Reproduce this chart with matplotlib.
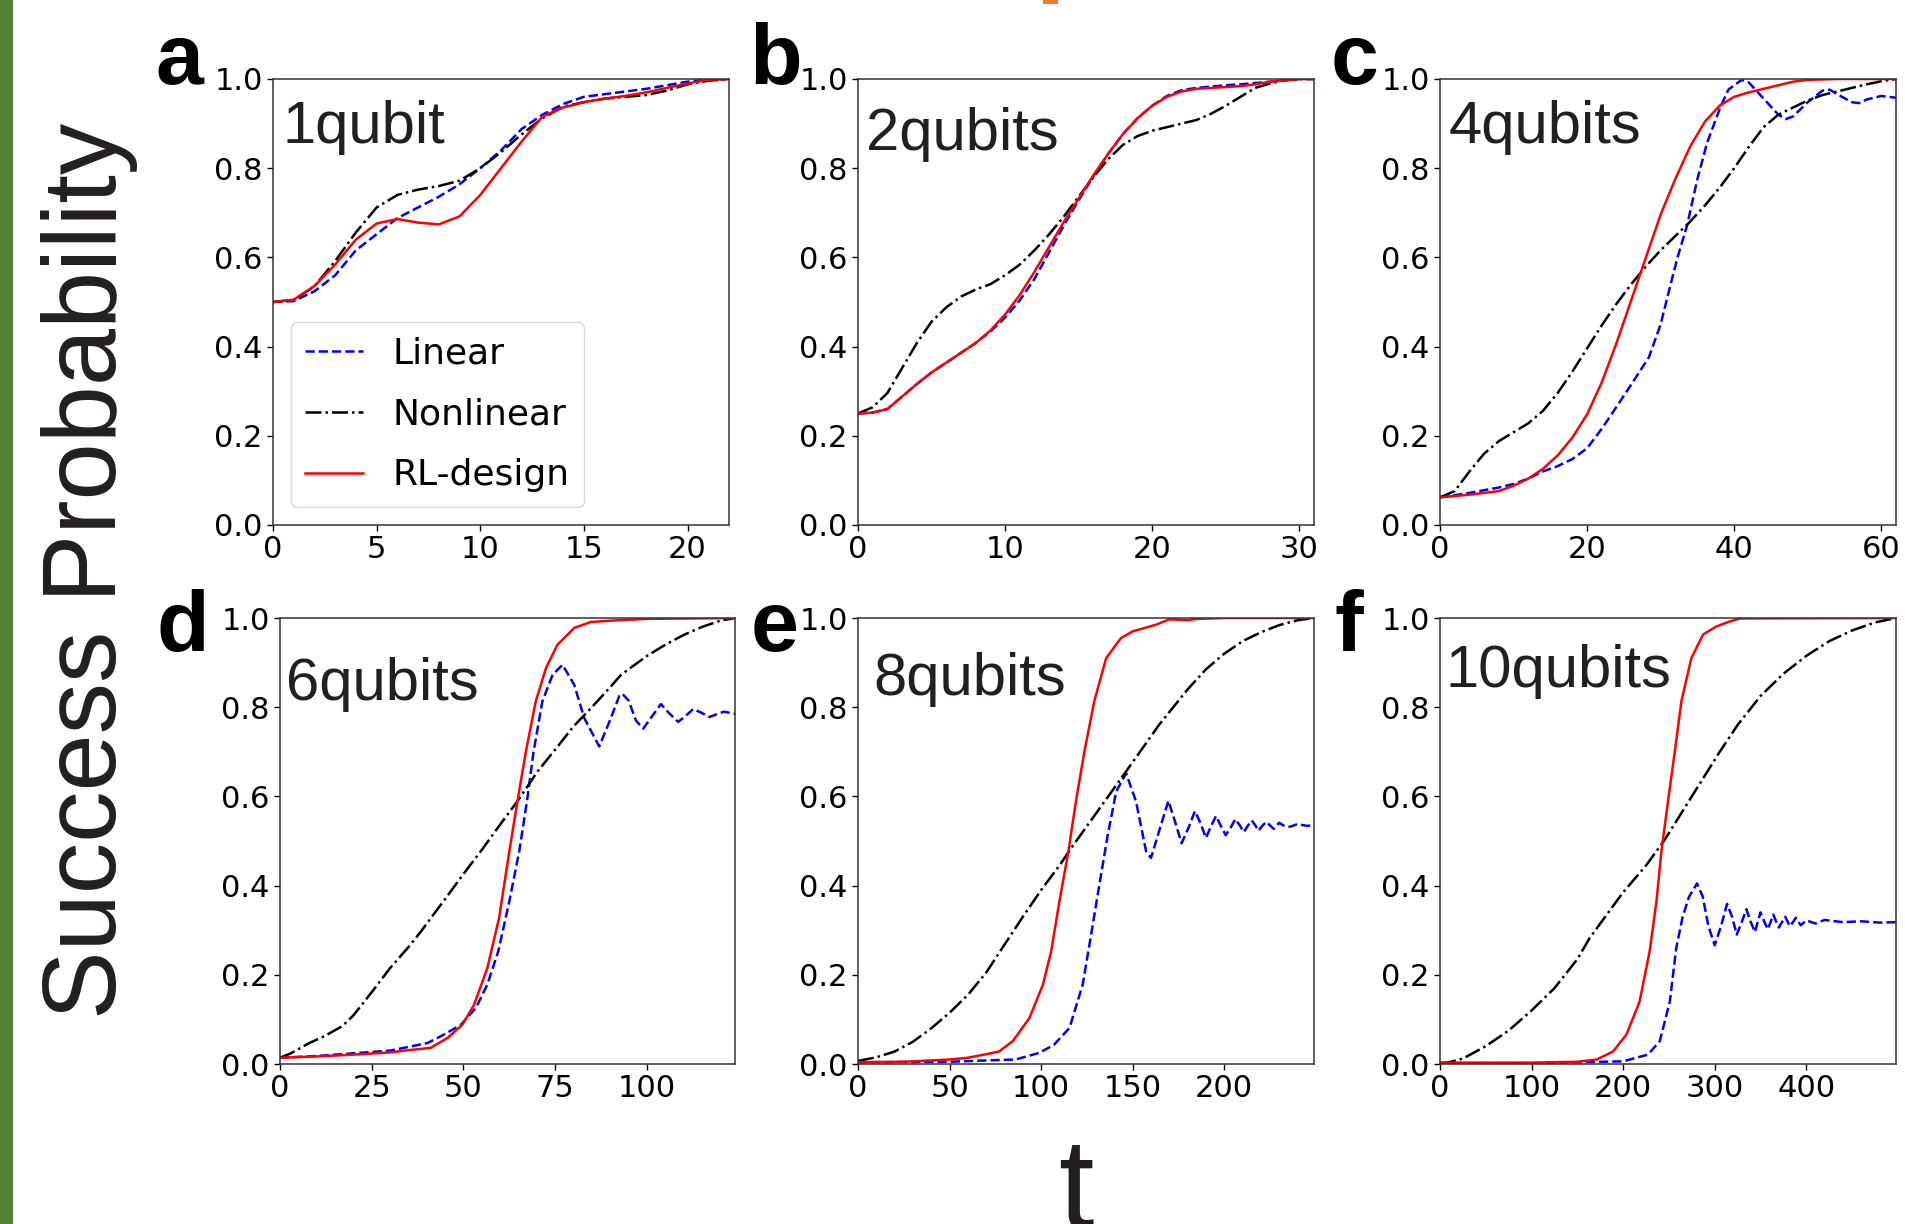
import matplotlib
matplotlib.use("Agg")
import matplotlib.pyplot as plt
from matplotlib.patches import Rectangle

# ---- data ----
# panel a : 1 qubit
t_a = [0, 1, 2, 3, 4, 5, 6, 7, 8, 9, 10, 11, 12, 13, 14, 15, 16, 17, 18, 19, 20, 21, 22]
lin_a = [0.5, 0.502, 0.524, 0.56, 0.616, 0.652, 0.688, 0.712, 0.736, 0.764, 0.80, 0.84,
         0.888, 0.92, 0.944, 0.96, 0.966, 0.972, 0.978, 0.986, 0.994, 0.999, 1.0]
non_a = [0.5, 0.505, 0.535, 0.592, 0.656, 0.712, 0.74, 0.752, 0.76, 0.772, 0.80, 0.836,
         0.876, 0.912, 0.938, 0.948, 0.956, 0.96, 0.964, 0.974, 0.988, 0.996, 1.0]
rl_a = [0.5, 0.505, 0.536, 0.584, 0.64, 0.676, 0.686, 0.678, 0.674, 0.692, 0.74, 0.80,
        0.86, 0.916, 0.936, 0.948, 0.956, 0.962, 0.97, 0.98, 0.99, 0.998, 1.0]

# panel b : 2 qubits
t_b = list(range(32))
lin_b = [0.25, 0.252, 0.26, 0.288, 0.316, 0.342, 0.364, 0.386, 0.408, 0.434, 0.465, 0.504,
         0.552, 0.612, 0.672, 0.728, 0.782, 0.832, 0.876, 0.912, 0.94, 0.962, 0.975, 0.98,
         0.983, 0.986, 0.988, 0.991, 0.994, 0.997, 1.0, 1.0]
non_b = [0.25, 0.264, 0.296, 0.352, 0.408, 0.456, 0.488, 0.512, 0.528, 0.54, 0.56, 0.584,
         0.616, 0.652, 0.692, 0.736, 0.78, 0.82, 0.852, 0.872, 0.884, 0.892, 0.9, 0.908,
         0.922, 0.94, 0.96, 0.98, 0.99, 0.997, 1.0, 1.0]
rl_b = [0.25, 0.252, 0.26, 0.288, 0.316, 0.342, 0.364, 0.386, 0.408, 0.436, 0.472, 0.516,
        0.568, 0.624, 0.68, 0.732, 0.784, 0.832, 0.876, 0.912, 0.94, 0.96, 0.972, 0.978,
        0.98, 0.982, 0.984, 0.988, 0.994, 0.997, 1.0, 1.0]

# panel c : 4 qubits
t_lin_c = [0, 2, 4, 6, 8, 10, 12, 14, 16, 18, 20, 22, 24, 26, 28.4, 30, 31.3, 32.3, 33.6,
           35, 36.3, 38.1, 39.2, 41, 42, 44, 46, 47, 48, 50, 52, 53, 54, 56, 57, 58, 60, 62]
lin_c = [0.062, 0.067, 0.072, 0.078, 0.084, 0.092, 0.104, 0.12, 0.132, 0.148, 0.172, 0.216,
         0.265, 0.315, 0.376, 0.45, 0.536, 0.6, 0.672, 0.776, 0.856, 0.936, 0.976, 0.998,
         0.992, 0.956, 0.92, 0.91, 0.916, 0.948, 0.974, 0.976, 0.966, 0.948, 0.946, 0.954,
         0.962, 0.958]
t_c = list(range(0, 63, 2))
non_c = [0.062, 0.076, 0.12, 0.16, 0.188, 0.208, 0.228, 0.256, 0.296, 0.344, 0.396, 0.448,
         0.496, 0.54, 0.58, 0.616, 0.648, 0.68, 0.716, 0.756, 0.80, 0.848, 0.892, 0.92,
         0.936, 0.952, 0.964, 0.972, 0.98, 0.988, 0.995, 1.0]
rl_c = [0.062, 0.065, 0.068, 0.072, 0.076, 0.088, 0.104, 0.126, 0.156, 0.196, 0.248, 0.32,
        0.408, 0.504, 0.60, 0.696, 0.776, 0.848, 0.904, 0.94, 0.96, 0.97, 0.978, 0.986,
        0.994, 0.998, 0.999, 1.0, 1.0, 1.0, 1.0, 1.0]

# panel d : 6 qubits
t_lin_d = [0, 10, 20, 30, 40.2, 44.7, 49.3, 53.4, 56.5, 59.5, 62.5, 65.2, 67.3, 69.1, 71.5,
           74.3, 77, 80.2, 82.9, 87, 90.2, 92.5, 93.3, 95, 97, 99, 101, 103.8, 106, 108.5,
           110.5, 112.6, 115, 117, 119, 121, 124]
lin_d = [0.014, 0.018, 0.024, 0.03, 0.047, 0.066, 0.088, 0.126, 0.178, 0.253, 0.365, 0.477,
         0.589, 0.70, 0.813, 0.873, 0.895, 0.85, 0.776, 0.712, 0.776, 0.826, 0.83, 0.815,
         0.77, 0.752, 0.775, 0.807, 0.787, 0.767, 0.78, 0.796, 0.787, 0.778, 0.784, 0.79,
         0.785]
t_non_d = [0, 3, 6, 8, 12, 17, 20, 25, 30, 35, 38.4, 45, 50, 55, 60, 64.7, 70.2, 75, 80, 85,
           90, 93, 100, 105, 110, 115, 120, 124]
non_d = [0.014, 0.024, 0.038, 0.047, 0.062, 0.085, 0.109, 0.161, 0.215, 0.262, 0.297, 0.37,
         0.426, 0.48, 0.537, 0.589, 0.656, 0.705, 0.757, 0.80, 0.845, 0.873, 0.915, 0.94,
         0.962, 0.98, 0.994, 1.0]
t_rl_d = [0, 10, 20, 30, 35, 41, 45.6, 49.7, 52.9, 56.5, 59.7, 62.5, 64.7, 67, 69.7, 72.5,
          75.6, 80.2, 84.7, 90, 100, 124]
rl_d = [0.014, 0.017, 0.021, 0.026, 0.031, 0.036, 0.058, 0.088, 0.133, 0.215, 0.327, 0.477,
        0.589, 0.70, 0.813, 0.888, 0.94, 0.978, 0.991, 0.994, 0.998, 1.0]

# panel e : 8 qubits
t_lin_e = [0, 50, 70, 86, 99, 107, 115.5, 122.7, 127.3, 131.8, 136.4, 141, 146.4, 151.8,
           157.3, 160, 165, 169.5, 173, 176.7, 180.5, 184, 187, 190, 193, 195.5, 198, 200.8,
           203.5, 206, 208.5, 210.6, 213, 215, 217, 218.6, 221, 223, 225, 227, 228.5, 230,
           233, 236, 240, 245, 249]
lin_e = [0.004, 0.005, 0.008, 0.01, 0.025, 0.043, 0.081, 0.178, 0.29, 0.402, 0.514, 0.611,
         0.652, 0.589, 0.477, 0.462, 0.53, 0.59, 0.545, 0.495, 0.53, 0.567, 0.54, 0.507,
         0.535, 0.556, 0.535, 0.513, 0.53, 0.549, 0.535, 0.52, 0.535, 0.546, 0.535, 0.523,
         0.535, 0.543, 0.535, 0.527, 0.534, 0.541, 0.533, 0.532, 0.538, 0.534, 0.535]
t_non_e = [0, 10, 20, 30, 40, 50, 60, 70, 77, 90, 100, 110, 116.4, 130, 146.4, 164.5, 180,
           190, 200, 210, 220, 230, 240, 249]
non_e = [0.007, 0.015, 0.028, 0.05, 0.08, 0.115, 0.155, 0.205, 0.249, 0.33, 0.39, 0.445,
         0.484, 0.562, 0.656, 0.761, 0.84, 0.885, 0.92, 0.948, 0.968, 0.984, 0.995, 1.0]
t_rl_e = [0, 25, 50, 60, 70, 77, 84.5, 93.6, 101, 105.5, 110, 114.9, 119, 123.6, 129, 135.5,
          143.6, 150, 162.7, 170, 180, 185, 200, 249]
rl_e = [0.004, 0.005, 0.01, 0.014, 0.022, 0.028, 0.051, 0.103, 0.178, 0.253, 0.365, 0.477,
        0.589, 0.70, 0.813, 0.91, 0.955, 0.97, 0.985, 0.997, 0.995, 0.998, 1.0, 1.0]

# panel f : 10 qubits
t_lin_f = [0, 100, 176, 200, 227, 240, 251, 258, 265, 272, 280.7, 287, 293, 300, 307, 313.5,
           319, 324, 329, 334.6, 339, 344, 347, 350, 354, 358, 361, 364, 367, 370, 373.5,
           377, 379.5, 382, 385.5, 388.6, 391, 394, 400, 410, 420, 440, 460, 480, 498]
lin_f = [0.002, 0.002, 0.005, 0.006, 0.021, 0.051, 0.14, 0.26, 0.33, 0.375, 0.405, 0.375,
         0.31, 0.266, 0.31, 0.359, 0.33, 0.29, 0.315, 0.347, 0.32, 0.296, 0.318, 0.34,
         0.32, 0.302, 0.318, 0.335, 0.32, 0.306, 0.318, 0.33, 0.32, 0.309, 0.318, 0.328,
         0.32, 0.311, 0.322, 0.315, 0.323, 0.318, 0.32, 0.317, 0.318]
t_non_f = [0, 10, 25, 50, 75, 100, 125, 150, 163.6, 200, 225, 245.5, 275, 305.5, 325, 350,
           375, 400, 425, 450, 475, 498]
non_f = [0.002, 0.004, 0.012, 0.04, 0.075, 0.12, 0.17, 0.235, 0.283, 0.385, 0.445, 0.503,
         0.6, 0.70, 0.76, 0.825, 0.875, 0.915, 0.948, 0.972, 0.99, 1.0]
t_rl_f = [0, 100, 150, 171, 189, 203.6, 218, 229, 236.4, 241.8, 249, 256.4, 263.6, 274.5,
          287.3, 301.8, 316, 328, 498]
rl_f = [0.003, 0.003, 0.005, 0.01, 0.028, 0.066, 0.14, 0.253, 0.365, 0.477, 0.589, 0.70,
        0.813, 0.91, 0.963, 0.981, 0.992, 0.999, 1.0]

letters = ["a", "b", "c", "d", "e", "f"]
names = ["1qubit", "2qubits", "4qubits", "6qubits", "8qubits", "10qubits"]
xmax = [22, 31, 62, 124, 249, 498]
xticks = [[0, 5, 10, 15, 20], [0, 10, 20, 30], [0, 20, 40, 60],
          [0, 25, 50, 75, 100], [0, 50, 100, 150, 200], [0, 100, 200, 300, 400]]
series = [
    ((t_a, lin_a), (t_a, non_a), (t_a, rl_a)),
    ((t_b, lin_b), (t_b, non_b), (t_b, rl_b)),
    ((t_lin_c, lin_c), (t_c, non_c), (t_c, rl_c)),
    ((t_lin_d, lin_d), (t_non_d, non_d), (t_rl_d, rl_d)),
    ((t_lin_e, lin_e), (t_non_e, non_e), (t_rl_e, rl_e)),
    ((t_lin_f, lin_f), (t_non_f, non_f), (t_rl_f, rl_f)),
]

# ---- layout (pixels in a 1906 x 1224 canvas) ----
W, H = 1906, 1224
boxes = [(273, 79, 729, 525), (858, 79, 1314, 525), (1440, 79, 1896, 525),
         (280, 618, 735, 1064), (858, 618, 1314, 1064), (1440, 618, 1896, 1064)]
letter_pos = [(156, 84), (749, 84), (1331, 84), (156, 651), (751, 651), (1335, 651)]
name_pos = [(283, 143), (866, 150), (1449, 143), (286, 700), (873, 695), (1446, 687)]

tick_font = dict(family="DejaVu Sans", size=22)
helv = ["Liberation Sans", "DejaVu Sans"]

fig = plt.figure(figsize=(W / 100, H / 100), dpi=100)


def fx(px):
    return px / W


def fy(py):
    return 1 - py / H


for i in range(6):
    x0, y0, x1, y1 = boxes[i]
    ax = fig.add_axes([fx(x0), fy(y1), (x1 - x0) / W, (y1 - y0) / H])
    (tl, yl), (tn, yn), (tr, yr) = series[i]
    ax.plot(tl, yl, color="blue", linestyle="--", linewidth=1.8, label="Linear")
    ax.plot(tn, yn, color="black", linestyle="-.", linewidth=1.8, label="Nonlinear")
    ax.plot(tr, yr, color="red", linestyle="-", linewidth=1.8, label="RL-design")
    ax.set_xlim(0, xmax[i])
    ax.set_ylim(0, 1)
    ax.set_xticks(xticks[i])
    ax.set_yticks([0, 0.2, 0.4, 0.6, 0.8, 1.0])
    ax.set_yticklabels(["0.0", "0.2", "0.4", "0.6", "0.8", "1.0"])
    ax.tick_params(direction="out", length=4.5, width=1.0, pad=3)
    for lab in ax.get_xticklabels() + ax.get_yticklabels():
        lab.set_fontproperties(tick_font)
    for sp in ax.spines.values():
        sp.set_color("#333333")
        sp.set_linewidth(1.1)
    ax.text(fx(name_pos[i][0]), fy(name_pos[i][1]), names[i], transform=fig.transFigure,
            fontsize=43, family=helv, color="#231f20", va="baseline", ha="left")
    fig.text(fx(letter_pos[i][0]), fy(letter_pos[i][1]), letters[i], fontsize=62,
             fontweight="bold", family=helv, color="black", va="baseline", ha="left")
    if i == 0:
        ax.legend(loc="lower left", prop=dict(family="DejaVu Sans", size=26),
                  handlelength=1.6, labelspacing=0.75)

fig.text(fx(90), fy(571), "Success Probability", rotation=90, fontsize=74, family=helv,
         color="#231f20", ha="center", va="center")
fig.text(fx(1076), fy(1228), "t", fontsize=92, family=helv, color="#231f20",
         ha="center", va="baseline")

# decorative edge marks present in the reference
fig.patches.append(Rectangle((0, 0), fx(13), 1, transform=fig.transFigure,
                             facecolor="#548235", edgecolor="none"))
fig.patches.append(Rectangle((fx(1043), fy(4)), fx(15), 4 / H, transform=fig.transFigure,
                             facecolor="#ED7D31", edgecolor="none"))

fig.savefig("out.png", dpi=100)
